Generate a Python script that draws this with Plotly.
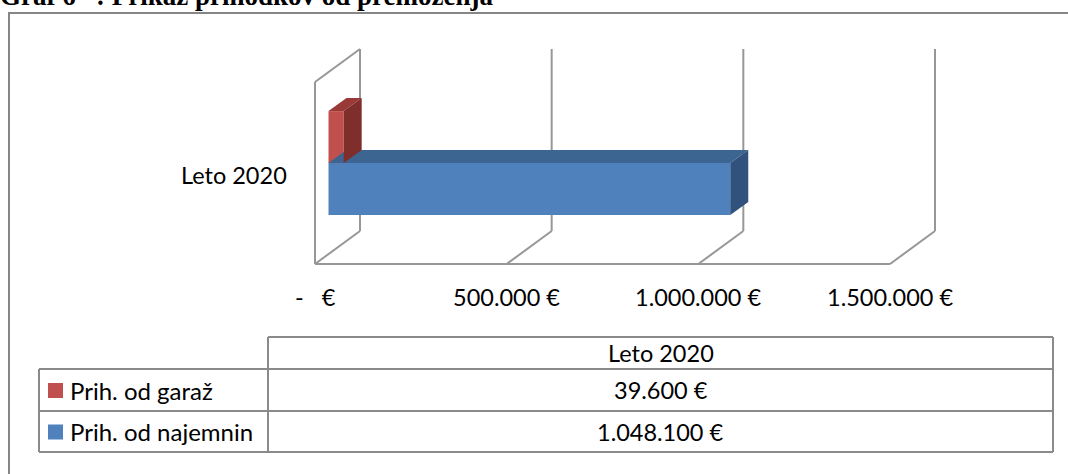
import plotly.graph_objects as go

# ---------------- data ----------------
TITLE = "Graf 6\u00a0\u00a0\u00a0: Prikaz prihodkov od premoženja"
CATEGORIES = ["Leto 2020"]
SERIES_NAMES = ["Prih. od garaž", "Prih. od najemnin"]
SERIES_VALUES = [[39600], [1048100]]
SERIES_COLORS = ["#C0504D", "#4F81BD"]
SIDE_COLORS = ["#7F2E2C", "#31527C"]
TOP_COLORS = ["#9A3A37", "#3C6592"]
TICK_VALUES = [0, 500000, 1000000, 1500000]

# ---------------- layout constants ----------------
W, H = 1068, 474
X0_PX = 315.0                       # px of value 0 on front floor
K = 575.0 / 1500000.0               # px per euro
FLOOR_PX, WALLTOP_PX = 264.0, 82.0  # front plane vertical extent
DEPTH_DX_PX, DEPTH_DY_PX = 45.0, -33.0
D0, D1 = 0.3, 0.7                   # bar depth range
GAP = 0.75
GRID = "#979797"
FONT = "Lato"
FS = 23.5
FS_TBL = 24


def eur(v):
    if v == 0:
        return "-\u00a0\u00a0\u00a0€"
    return f"{v:,.0f}".replace(",", ".") + " €"


DX = DEPTH_DX_PX / K  # depth vector in euros
DY = DEPTH_DY_PX      # depth vector in y px

fig = go.Figure()

# ----- back wall / floor grid (drawn from tick values through the axes) -----
shapes = []
back_floor = FLOOR_PX + DY
back_top = WALLTOP_PX + DY
ln = dict(color=GRID, width=2)
for t in TICK_VALUES:
    shapes.append(dict(type="line", xref="x", yref="y", x0=t + DX, x1=t + DX,
                       y0=back_floor, y1=back_top, line=ln, layer="below"))
    shapes.append(dict(type="line", xref="x", yref="y", x0=t, x1=t + DX,
                       y0=FLOOR_PX, y1=back_floor, line=ln, layer="below"))
shapes.append(dict(type="line", xref="x", yref="y", x0=TICK_VALUES[0], x1=TICK_VALUES[-1],
                   y0=FLOOR_PX, y1=FLOOR_PX, line=ln, layer="below"))
shapes.append(dict(type="line", xref="x", yref="y", x0=0, x1=0,
                   y0=FLOOR_PX, y1=WALLTOP_PX, line=ln, layer="below"))
shapes.append(dict(type="line", xref="x", yref="y", x0=0, x1=DX,
                   y0=WALLTOP_PX, y1=back_top, line=ln, layer="below"))

# ----- 3D bars -----
band = FLOOR_PX - WALLTOP_PX
center = (FLOOR_PX + WALLTOP_PX) / 2
n = len(SERIES_NAMES)
bar_h = band / (1 + GAP) / n
w = D1 - D0
base_x = D0 * DX
for i in list(range(n))[::-1]:
    v = SERIES_VALUES[i][0]
    yt = center - bar_h * (n / 2) + i * bar_h + D0 * DY
    yb = yt + bar_h
    yc = (yt + yb) / 2
    fig.add_trace(go.Bar(y=[yc], x=[v], base=[base_x], width=[bar_h], orientation="h",
                         marker=dict(color=SERIES_COLORS[i], line=dict(width=0)),
                         name=SERIES_NAMES[i], showlegend=False, hoverinfo="skip"))
    x1 = base_x + v
    fig.add_trace(go.Scatter(x=[base_x, x1, x1 + w * DX, base_x + w * DX, base_x],
                             y=[yt, yt, yt + w * DY, yt + w * DY, yt],
                             fill="toself", fillcolor=TOP_COLORS[i], mode="lines",
                             line=dict(width=0, color=TOP_COLORS[i]),
                             showlegend=False, hoverinfo="skip"))
    fig.add_trace(go.Scatter(x=[x1, x1 + w * DX, x1 + w * DX, x1, x1],
                             y=[yt, yt + w * DY, yb + w * DY, yb, yt],
                             fill="toself", fillcolor=SIDE_COLORS[i], mode="lines",
                             line=dict(width=0, color=SIDE_COLORS[i]),
                             showlegend=False, hoverinfo="skip"))

annotations = []
for t in TICK_VALUES:
    annotations.append(dict(xref="x", yref="y", x=t, y=297, text=eur(t), showarrow=False,
                            xanchor="center", yanchor="middle",
                            font=dict(family=FONT, size=FS, color="#000")))
annotations.append(dict(xref="x", yref="y", x=-26 / K, y=center + 2, text=CATEGORIES[0],
                        showarrow=False, xanchor="right", yanchor="middle",
                        font=dict(family=FONT, size=FS, color="#000")))


# ----- data table (paper = figure pixels) -----
def PX(x):
    return x / W


def PY(y):
    return 1 - y / H


TL = dict(color="#8A8A8A", width=2)
tbl_left, tbl_div, tbl_right = 39, 268, 1053
rows_y = [337, 369, 411, 452]


def hline(x0, x1, y):
    shapes.append(dict(type="line", xref="paper", yref="paper", x0=PX(x0), x1=PX(x1),
                       y0=PY(y), y1=PY(y), line=TL))


def vline(x, y0, y1):
    shapes.append(dict(type="line", xref="paper", yref="paper", x0=PX(x), x1=PX(x),
                       y0=PY(y0), y1=PY(y1), line=TL))


hline(tbl_div, tbl_right, rows_y[0])
for y in rows_y[1:]:
    hline(tbl_left, tbl_right, y)
vline(tbl_div, rows_y[0], rows_y[-1])
vline(tbl_right, rows_y[0], rows_y[-1])
vline(tbl_left, rows_y[1], rows_y[-1])

val_cx = (tbl_div + tbl_right) / 2
annotations.append(dict(xref="paper", yref="paper", x=PX(val_cx), y=PY((rows_y[0] + rows_y[1]) / 2),
                        text=CATEGORIES[0], showarrow=False, xanchor="center", yanchor="middle",
                        font=dict(family=FONT, size=FS, color="#000")))
for i, name in enumerate(SERIES_NAMES):
    ymid = (rows_y[i + 1] + rows_y[i + 2]) / 2
    shapes.append(dict(type="rect", xref="paper", yref="paper", x0=PX(48), x1=PX(63),
                       y0=PY(ymid - 7), y1=PY(ymid + 8), fillcolor=SERIES_COLORS[i],
                       line=dict(width=0)))
    annotations.append(dict(xref="paper", yref="paper", x=PX(68), y=PY(ymid), text=name,
                            showarrow=False, xanchor="left", yanchor="middle",
                            font=dict(family=FONT, size=FS_TBL, color="#000")))
    annotations.append(dict(xref="paper", yref="paper", x=PX(val_cx), y=PY(ymid),
                            text=eur(SERIES_VALUES[i][0]), showarrow=False,
                            xanchor="center", yanchor="middle",
                            font=dict(family=FONT, size=FS, color="#000")))

# outer chart border
shapes.append(dict(type="rect", xref="paper", yref="paper", x0=PX(9), x1=PX(1080),
                   y0=PY(13), y1=PY(490), line=dict(color="#868686", width=2)))

# title (partially cut off at top, as in the reference)
annotations.append(dict(xref="paper", yref="paper", x=-0.002, y=PY(13), text="<b>" + TITLE + "</b>",
                        showarrow=False, xanchor="left", yanchor="bottom",
                        font=dict(family="Liberation Serif", size=27, color="#000")))

fig.update_layout(
    width=W, height=H, margin=dict(l=0, r=0, t=0, b=0),
    paper_bgcolor="white", plot_bgcolor="white",
    xaxis=dict(range=[-X0_PX / K, (W - X0_PX) / K], visible=False, fixedrange=True),
    yaxis=dict(range=[H, 0], visible=False, fixedrange=True),
    shapes=shapes, annotations=annotations, showlegend=False, barmode="overlay",
)

fig.write_html("out.html", config={"displayModeBar": False},
               post_script="document.body.style.margin='0';")
